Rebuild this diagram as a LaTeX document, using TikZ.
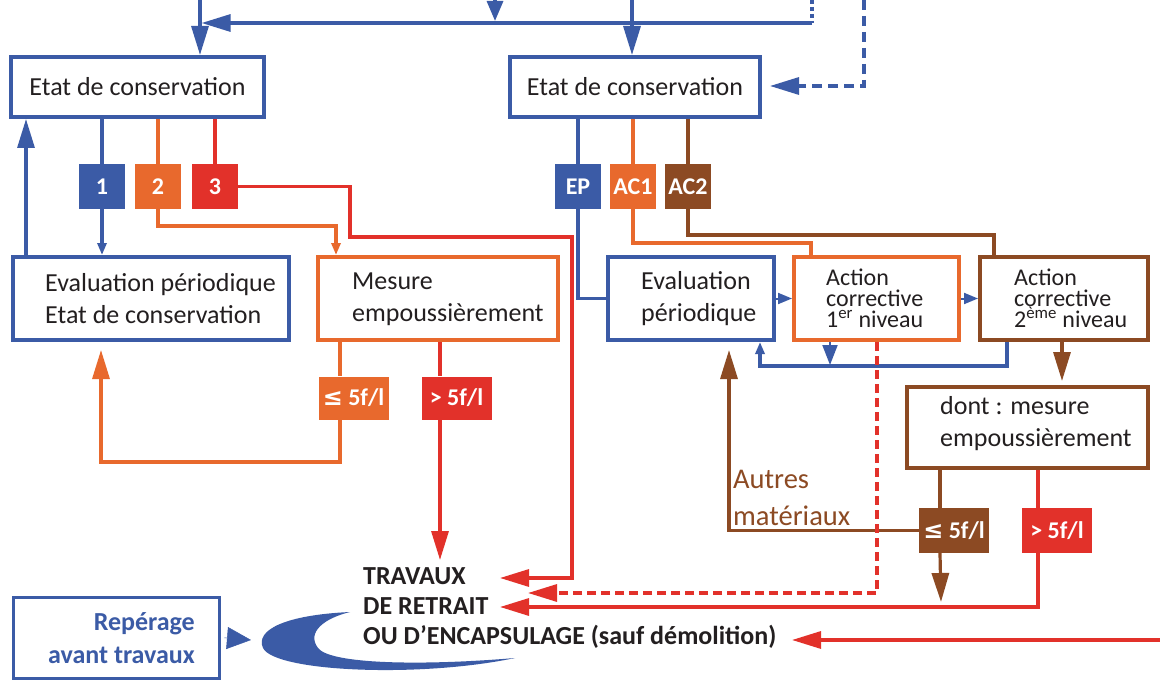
\documentclass[tikz,border=0pt]{standalone}
\usepackage{fontspec}
\setmainfont{Carlito}
\newfontfamily\dejavu{DejaVu Sans}
\usetikzlibrary{arrows.meta}
\definecolor{cblue}{HTML}{3B5BA6}
\definecolor{corange}{HTML}{E8692D}
\definecolor{cred}{HTML}{E2312A}
\definecolor{cbrown}{HTML}{8C4A23}
\definecolor{ctext}{HTML}{231F20}
\begin{document}
\begin{tikzpicture}[x=1pt,y=-1pt,
  bx/.style={draw, line width=4pt, fill=white, inner sep=0pt, minimum height=83pt, text=ctext, font=\fontsize{26}{32}\selectfont},
  sq/.style={fill=#1, text=white, inner sep=0pt, minimum width=46pt, minimum height=45pt, font=\bfseries\fontsize{24}{24}\selectfont},
  lim/.style={fill=#1, text=white, inner sep=0pt, minimum width=70pt, minimum height=43pt, font=\bfseries\fontsize{24}{24}\selectfont},
  txt/.style={inner sep=0pt, text=ctext, font=\fontsize{26}{32}\selectfont, align=left},
  ln/.style={line width=3.2pt},
  big/.style={-{Triangle[length=29pt,width=17pt]}},
  small/.style={-{Triangle[length=12pt,width=9pt]}},
]
\useasboundingbox[fill=white] (0,0) rectangle (1160,682);

% ---------- boxes ----------
\node[bx, draw=cblue, minimum width=253pt, minimum height=60pt] (A) at (137.5,87) {Etat de conservation};
\node[bx, draw=cblue, minimum width=250pt, minimum height=60pt] (B) at (635,87) {Etat de conservation};
\node[bx, draw=cblue, minimum width=276pt] (EL) at (151,298.5) {};
\node[bx, draw=corange, minimum width=240pt] (M) at (438,298.5) {};
\node[bx, draw=cblue, minimum width=166pt] (ER) at (691,298.5) {};
\node[bx, draw=corange, minimum width=165pt] (A1) at (876.5,298.5) {};
\node[bx, draw=cbrown, minimum width=168pt] (A2) at (1064,298.5) {};
\node[bx, draw=cbrown, minimum width=241pt, minimum height=81pt] (D) at (1027.5,427.5) {};
\node[bx, draw=cblue, line width=3pt, minimum width=206pt, minimum height=81pt] (R) at (116,637.5) {};

% ---------- texts ----------
\node[txt, anchor=west] (ELt) at (45,299) {Evaluation périodique\\Etat de conservation};
\node[txt, anchor=west] (Mt) at (352,299) {Mesure\\empoussièrement};
\node[txt, anchor=west] (ERt) at (641,299) {Evaluation\\périodique};
\node[txt, anchor=west, font=\fontsize{24}{21}\selectfont] (A1t) at (826,298) {Action\\corrective\\1\textsuperscript{er} niveau};
\node[txt, anchor=west, font=\fontsize{24}{21}\selectfont] (A2t) at (1014,298) {Action\\corrective\\2\textsuperscript{ème} niveau};
\node[txt, anchor=west] (Dt) at (940,424) {dont : mesure\\empoussièrement};
\node[txt, anchor=east, align=right, text=cblue, font=\bfseries\fontsize{26}{33}\selectfont] (Rt) at (195,638) {Repérage\\avant travaux};
\node[txt, anchor=west, font=\bfseries\fontsize{26}{30}\selectfont] (T) at (363,608) {TRAVAUX\\DE RETRAIT\\OU D’ENCAPSULAGE (sauf démolition)};
\node[txt, anchor=west, text=cbrown, font=\fontsize{28.5}{37}\selectfont] (AM) at (733,498) {Autres\\matériaux};

% ---------- small squares ----------
\node[sq=cblue] (s1) at (102,186.5) {1};
\node[sq=corange] (s2) at (158,186.5) {2};
\node[sq=cred] (s3) at (215,186.5) {3};
\node[sq=cblue] (sEP) at (578,186.5) {EP};
\node[sq=corange] (sAC1) at (633,186.5) {AC1};
\node[sq=cbrown] (sAC2) at (688,186.5) {AC2};
\node[lim=corange] (le1) at (353.5,398) {{\dejavu ≤} 5f/l};
\node[lim=cred] (gt1) at (456.5,398) {> 5f/l};
\node[lim=cbrown, minimum height=45pt] (le2) at (954,530.5) {{\dejavu ≤} 5f/l};
\node[lim=cred, minimum height=45pt] (gt2) at (1057,530.5) {> 5f/l};

% ---------- coordinates ----------
\coordinate (t200) at (200,0);
\coordinate (t495) at (495,0);
\coordinate (h495) at (495,21);
\coordinate (t632) at (632,0);
\coordinate (t812) at (812,0);
\coordinate (h812) at (812,23);
\coordinate (h200) at (201.6,23);
\coordinate (t864) at (864,0);
\coordinate (d770) at (770,86);
\coordinate (lu) at (26,0);
\coordinate (o2) at (336,226);
\coordinate (r3a) at (350,237);
\coordinate (r3b) at (572,578);
\coordinate (tr1) at (500,578);
\coordinate (x340) at (340,0);
\coordinate (o3) at (101,462);
\coordinate (o4) at (101,350);
\coordinate (x440) at (440,0);
\coordinate (rd) at (440,560);
\coordinate (c811) at (811,243);
\coordinate (c994) at (994,235);
\coordinate (lp1) at (1007,366);
\coordinate (lp0) at (760,366);
\coordinate (x830) at (830,0);
\coordinate (b830) at (830,365);
\coordinate (x1062) at (1062,0);
\coordinate (b1062) at (1062,381);
\coordinate (x940) at (940,0);
\coordinate (bd) at (941,602);
\coordinate (au) at (729,350);
\coordinate (x1038) at (1038,0);
\coordinate (tr2) at (500,607);
\coordinate (x877) at (877,0);
\coordinate (tr3) at (528,593);
\coordinate (rr) at (1160,640);
\coordinate (tr4) at (792,640);
\coordinate (cr) at (251,640);

% ---------- top connectors ----------
\draw[ln, cblue, big] (t200) -- (t200 |- A.north);
\draw[ln, cblue, -{Triangle[length=20pt,width=16pt]}] (t495) -- (h495);
\draw[ln, cblue, big] (t632) -- (t632 |- B.north);
\draw[ln, cblue, dash pattern=on 4pt off 3pt] (t812) -- (h812);
\draw[ln, cblue, big] (h812) -- (h200);
\draw[ln, cblue, big, dash pattern=on 10pt off 6pt] (t864) |- (d770);

% ---------- left part ----------
\draw[ln, cblue] (A.south -| s1) -- (s1.north);
\draw[ln, cblue, small] (s1.south) -- (s1 |- EL.north);
\draw[ln, corange] (A.south -| s2) -- (s2.north);
\draw[ln, corange, small] (s2.south) |- (o2) -- (o2 |- M.north);
\draw[ln, cred] (A.south -| s3) -- (s3.north);
\draw[ln, cred, big] (s3.east) -| (r3a) -| (r3b) -- (tr1);
\draw[ln, cblue, big] (EL.north -| lu) -- (A.south -| lu);
\draw[ln, corange] (M.south -| x340) -- (le1.north -| x340);
\draw[ln, corange, big] (le1.south -| x340) |- (o3) -- (o4);
\draw[ln, cred] (M.south -| x440) -- (gt1.north -| x440);
\draw[ln, cred, big] (gt1.south -| x440) -- (rd);

% ---------- right part ----------
\draw[ln, cblue] (B.south -| sEP) -- (sEP.north);
\draw[ln, cblue] (sEP.south) |- (ER.west);
\draw[ln, corange] (B.south -| sAC1) -- (sAC1.north);
\draw[ln, corange] (sAC1.south) |- (c811) -- (c811 |- A1.north);
\draw[ln, cbrown] (B.south -| sAC2) -- (sAC2.north);
\draw[ln, cbrown] (sAC2.south) |- (c994) -- (c994 |- A2.north);
\draw[cblue, line width=2pt, -{Triangle[length=14pt,width=11pt]}] (ER.east) -- (A1.west);
\draw[cblue, line width=2pt, -{Triangle[length=14pt,width=11pt]}] (A1.east) -- (A2.west);
\draw[ln, cblue, small] (A2.south -| lp1) -- (lp1) -- (lp0) -- (lp0 |- ER.south);
\draw[cblue, line width=2pt, -{Triangle[length=20pt,width=15pt]}] (A1.south -| x830) -- (b830);
\draw[ln, cbrown, big] (A2.south -| x1062) -- (b1062);
\draw[ln, cbrown] (D.south -| x940) -- (le2.north -| x940);
\draw[ln, cbrown, big] (le2.south -| x940) -- (bd);
\draw[ln, cbrown, big] (le2.west) -| (au);
\draw[ln, cred] (D.south -| x1038) -- (gt2.north -| x1038);
\draw[ln, cred, big] (gt2.south -| x1038) |- (tr2);
\draw[ln, cred, big, dash pattern=on 9pt off 5pt] (A1.south -| x877) |- (tr3);
\draw[ln, cred, big] (rr) -- (tr4);

% ---------- bottom left ----------
\draw[cblue, line width=0.5pt, shorten <=4pt, -{Triangle[length=24pt,width=22pt]}] (R.east) -- (cr);
\fill[cblue] (350,612) .. controls (285,615) and (255,630) .. (263,648)
  .. controls (275,672) and (420,678) .. (515,658)
  .. controls (420,666) and (330,664) .. (318,648)
  .. controls (306,632) and (325,618) .. (350,612) -- cycle;
\end{tikzpicture}
\end{document}
